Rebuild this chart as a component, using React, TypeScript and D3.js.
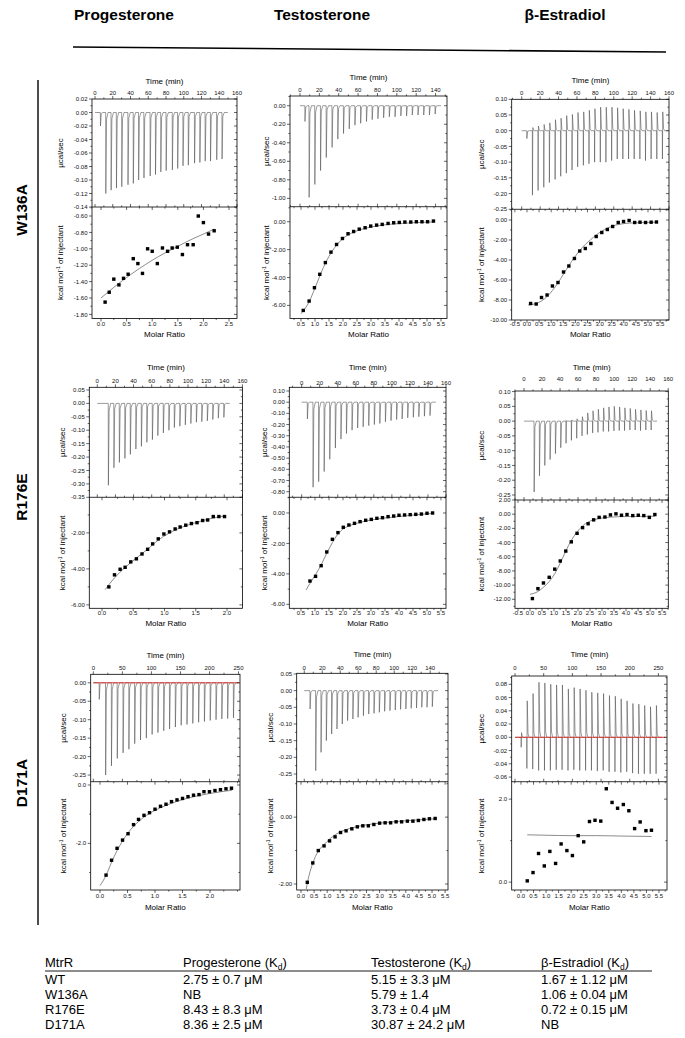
import React from "react";
import * as d3 from "d3";

const FONT = "Arial, 'Liberation Sans', Helvetica, sans-serif";

/* ── Labels ─────────────────────────────────────────── */
const COMPOUNDS = ["Progesterone", "Testosterone", "β-Estradiol"];
const MUTANTS = ["W136A", "R176E", "D171A"];

/* ── Axis tick values ───────────────────────────────── */
const TIME_160 = [0, 20, 40, 60, 80, 100, 120, 140, 160];
const TIME_140 = [0, 20, 40, 60, 80, 100, 120, 140];
const TIME_250 = [0, 50, 100, 150, 200, 250];
const RATIO_25 = [0, 0.5, 1, 1.5, 2, 2.5];
const RATIO_20 = [0, 0.5, 1, 1.5, 2];
const RATIO_H55 = [0.5, 1, 1.5, 2, 2.5, 3, 3.5, 4, 4.5, 5, 5.5];
const RATIO_M55 = [-0.5, 0, 0.5, 1, 1.5, 2, 2.5, 3, 3.5, 4, 4.5, 5, 5.5];
const RATIO_Z55 = [0, 0.5, 1, 1.5, 2, 2.5, 3, 3.5, 4, 4.5, 5, 5.5];

/* ── Progesterone / W136A ───────────────────────────── */
const P1_UCAL_TICKS = [-0.14, -0.12, -0.1, -0.08, -0.06, -0.04, -0.02, 0, 0.02];
const P1_KCAL_TICKS = [-1.8, -1.6, -1.4, -1.2, -1.0, -0.8, -0.6];
const P1_INJ_T = [6, 12, 18, 24, 30, 37, 43, 49, 55, 62, 68, 74, 80, 87, 93, 99, 105, 112, 118, 124, 130, 137, 143];
const P1_INJ_NEG = [-0.02, -0.12, -0.115, -0.112, -0.11, -0.107, -0.105, -0.1, -0.097, -0.094, -0.092, -0.088, -0.086, -0.085, -0.083, -0.079, -0.078, -0.075, -0.074, -0.072, -0.072, -0.07, -0.069];
const P1_RATIO = [0.08, 0.16, 0.25, 0.35, 0.44, 0.53, 0.63, 0.72, 0.81, 0.91, 1.0, 1.1, 1.2, 1.3, 1.39, 1.49, 1.59, 1.69, 1.8, 1.9, 2.0, 2.1, 2.21];
const P1_HEAT = [-1.65, -1.53, -1.37, -1.44, -1.36, -1.31, -1.12, -1.18, -1.3, -1.0, -1.03, -1.18, -0.99, -1.03, -0.99, -0.98, -1.07, -0.95, -0.95, -0.6, -0.68, -0.82, -0.78];
const P1_FIT_X = [0.0, 0.25, 0.5, 0.75, 1.0, 1.25, 1.5, 1.75, 2.0, 2.21];
const P1_FIT_Y = [-1.6, -1.47, -1.35, -1.24, -1.14, -1.05, -0.97, -0.89, -0.82, -0.76];

/* ── Testosterone / W136A ───────────────────────────── */
const P2_UCAL_TICKS = [-1.0, -0.8, -0.6, -0.4, -0.2, 0];
const P2_KCAL_TICKS = [-6, -4, -2, 0];
const P2_INJ_T = [5, 9.3, 15.2, 21.1, 27, 33, 38.9, 44.8, 50.7, 56.6, 62.5, 68.5, 74.4, 80.3, 86.2, 92.1, 98, 104, 109.9, 115.8, 121.7, 127.6, 133.5, 139.4];
const P2_INJ_NEG = [-0.17, -0.99, -0.85, -0.7, -0.56, -0.45, -0.36, -0.3, -0.25, -0.21, -0.19, -0.17, -0.15, -0.14, -0.13, -0.12, -0.12, -0.11, -0.11, -0.1, -0.1, -0.1, -0.1, -0.09];
const P2_RATIO = [0.58, 0.79, 0.98, 1.17, 1.37, 1.57, 1.77, 1.98, 2.18, 2.38, 2.58, 2.79, 2.99, 3.2, 3.4, 3.61, 3.81, 4.01, 4.21, 4.42, 4.62, 4.82, 5.02, 5.23];
const P2_HEAT = [-6.36, -5.69, -4.73, -3.77, -2.93, -2.18, -1.63, -1.2, -0.86, -0.7, -0.53, -0.43, -0.31, -0.24, -0.19, -0.12, -0.07, -0.05, -0.02, -0.02, 0.0, 0.0, 0.0, 0.05];
const P2_FIT_X = [0.5, 0.8, 1.0, 1.2, 1.4, 1.6, 1.8, 2.0, 2.3, 2.6, 3.0, 3.5, 4.0, 4.5, 5.0, 5.25];
const P2_FIT_Y = [-6.6, -5.7, -4.75, -3.75, -2.85, -2.15, -1.6, -1.2, -0.82, -0.58, -0.38, -0.22, -0.13, -0.07, -0.03, -0.01];

/* ── β-Estradiol / W136A ────────────────────────────── */
const P3_UCAL_TICKS = [-0.25, -0.2, -0.15, -0.1, -0.05, 0, 0.05, 0.1];
const P3_KCAL_TICKS = [-10, -8, -6, -4, -2, 0];
const P3_INJ_T = [5.4, 11.5, 17.6, 23.8, 29.9, 36.1, 42.2, 48.3, 54.5, 60.6, 66.8, 72.9, 79.0, 85.2, 91.3, 97.5, 103.6, 109.7, 115.9, 122.0, 128.2, 134.3, 140.4, 146.6, 152.7];
const P3_INJ_NEG = [-0.025, -0.205, -0.19, -0.18, -0.165, -0.155, -0.145, -0.135, -0.125, -0.115, -0.11, -0.105, -0.1, -0.1, -0.1, -0.095, -0.09, -0.09, -0.09, -0.09, -0.09, -0.095, -0.09, -0.09, -0.09];
const P3_INJ_POS = [0, 0.01, 0.015, 0.02, 0.025, 0.035, 0.04, 0.048, 0.052, 0.058, 0.06, 0.065, 0.07, 0.075, 0.075, 0.075, 0.073, 0.07, 0.068, 0.065, 0.063, 0.06, 0.06, 0.058, 0.06];
const P3_RATIO = [0.15, 0.38, 0.6, 0.83, 1.05, 1.28, 1.51, 1.73, 1.96, 2.18, 2.41, 2.64, 2.86, 3.09, 3.32, 3.54, 3.77, 3.99, 4.22, 4.45, 4.67, 4.9, 5.13, 5.35];
const P3_HEAT = [-8.35, -8.4, -7.75, -7.5, -6.6, -6.25, -5.2, -4.6, -3.85, -3.1, -2.85, -2.35, -1.65, -1.25, -0.95, -0.65, -0.25, -0.15, -0.05, -0.25, -0.22, -0.25, -0.22, -0.2];
const P3_FIT_X = [0.05, 0.38, 0.6, 0.83, 1.05, 1.28, 1.51, 1.73, 1.96, 2.18, 2.41, 2.64, 2.86, 3.09, 3.32, 3.54, 3.77, 4.0, 4.5, 5.0, 5.35];
const P3_FIT_Y = [-8.5, -8.35, -8.1, -7.65, -7.05, -6.3, -5.4, -4.55, -3.75, -3.05, -2.45, -1.95, -1.5, -1.12, -0.82, -0.6, -0.45, -0.36, -0.28, -0.24, -0.22];

/* ── Progesterone / R176E ───────────────────────────── */
const P4_UCAL_TICKS = [-0.35, -0.3, -0.25, -0.2, -0.15, -0.1, -0.05, 0, 0.05];
const P4_KCAL_TICKS = [-6, -4, -2];
const P4_INJ_T = [12.1, 18.2, 24.2, 30.3, 36.3, 42.4, 48.5, 54.5, 60.6, 66.6, 72.7, 78.8, 84.8, 90.9, 96.9, 103.0, 109.1, 115.1, 121.2, 127.2, 133.3, 139.4];
const P4_INJ_NEG = [-0.305, -0.24, -0.22, -0.205, -0.19, -0.17, -0.16, -0.145, -0.135, -0.12, -0.11, -0.1, -0.09, -0.085, -0.08, -0.075, -0.07, -0.068, -0.065, -0.06, -0.055, -0.052];
const P4_RATIO = [0.11, 0.2, 0.29, 0.37, 0.46, 0.55, 0.64, 0.73, 0.81, 0.9, 0.99, 1.08, 1.17, 1.25, 1.34, 1.43, 1.52, 1.61, 1.69, 1.78, 1.87, 1.96];
const P4_HEAT = [-5.0, -4.33, -4.02, -3.91, -3.61, -3.44, -3.17, -2.91, -2.61, -2.33, -2.06, -1.94, -1.78, -1.67, -1.57, -1.48, -1.43, -1.31, -1.28, -1.09, -1.09, -1.09];
const P4_FIT_X = [0.05, 0.2, 0.37, 0.55, 0.73, 0.9, 1.08, 1.25, 1.43, 1.61, 1.78, 1.96];
const P4_FIT_Y = [-5.15, -4.5, -3.92, -3.4, -2.9, -2.4, -2.0, -1.72, -1.5, -1.32, -1.17, -1.06];

/* ── Testosterone / R176E ───────────────────────────── */
const P5_UCAL_TICKS = [-0.8, -0.7, -0.6, -0.5, -0.4, -0.3, -0.2, -0.1, 0, 0.1];
const P5_KCAL_TICKS = [-6, -4, -2, 0];
const P5_INJ_T = [6.2, 12.5, 18.7, 24.8, 31.0, 37.2, 43.4, 49.5, 55.7, 61.9, 68.0, 74.2, 80.4, 86.5, 92.7, 98.9, 105.1, 111.2, 117.4, 123.6, 129.7, 135.9, 142.1];
const P5_INJ_NEG = [-0.15, -0.76, -0.71, -0.62, -0.51, -0.41, -0.33, -0.28, -0.25, -0.23, -0.22, -0.21, -0.2, -0.19, -0.175, -0.165, -0.155, -0.15, -0.14, -0.135, -0.13, -0.125, -0.12];
const P5_RATIO = [0.82, 1.02, 1.22, 1.42, 1.62, 1.82, 2.01, 2.21, 2.41, 2.61, 2.81, 3.01, 3.21, 3.41, 3.61, 3.81, 4.0, 4.2, 4.4, 4.6, 4.8, 5.0, 5.2];
const P5_HEAT = [-4.47, -4.16, -3.46, -2.56, -1.73, -1.29, -0.94, -0.79, -0.68, -0.57, -0.48, -0.42, -0.35, -0.31, -0.24, -0.2, -0.15, -0.13, -0.11, -0.09, -0.07, -0.02, 0.0];
const P5_FIT_X = [0.68, 0.82, 1.02, 1.22, 1.42, 1.62, 1.82, 2.02, 2.2, 2.6, 3.0, 3.5, 4.0, 4.5, 5.0, 5.2];
const P5_FIT_Y = [-5.06, -4.62, -4.05, -3.4, -2.65, -1.95, -1.38, -1.03, -0.86, -0.62, -0.46, -0.33, -0.23, -0.14, -0.06, -0.03];

/* ── β-Estradiol / R176E ────────────────────────────── */
const P6_UCAL_TICKS = [-0.25, -0.2, -0.15, -0.1, -0.05, 0, 0.05, 0.1];
const P6_KCAL_TICKS = [-12, -10, -8, -6, -4, -2, 0, 2];
const P6_INJ_T = [11.1, 17.0, 22.9, 28.8, 34.7, 40.6, 46.5, 52.4, 58.3, 64.2, 70.1, 76.0, 81.9, 87.8, 93.7, 99.6, 105.5, 111.4, 117.3, 123.2, 129.1, 135.0, 140.9];
const P6_INJ_NEG = [-0.24, -0.185, -0.15, -0.13, -0.11, -0.09, -0.075, -0.065, -0.058, -0.05, -0.045, -0.04, -0.038, -0.035, -0.035, -0.033, -0.032, -0.032, -0.03, -0.03, -0.032, -0.03, -0.03];
const P6_INJ_POS = [0, 0, 0, 0, 0, 0, 0.002, 0.004, 0.008, 0.015, 0.028, 0.035, 0.04, 0.045, 0.048, 0.05, 0.048, 0.045, 0.043, 0.04, 0.038, 0.036, 0.035];
const P6_RATIO = [0.1, 0.33, 0.56, 0.8, 1.03, 1.26, 1.49, 1.72, 1.96, 2.19, 2.42, 2.65, 2.88, 3.12, 3.35, 3.58, 3.81, 4.04, 4.28, 4.51, 4.74, 4.97, 5.2];
const P6_HEAT = [-11.9, -10.5, -9.7, -8.9, -7.75, -6.6, -5.2, -3.9, -2.7, -1.9, -1.35, -0.8, -0.45, -0.4, -0.1, 0.05, -0.15, -0.05, -0.2, -0.15, -0.2, -0.45, -0.05];
const P6_FIT_X = [0.0, 0.33, 0.56, 0.8, 1.03, 1.26, 1.49, 1.72, 1.96, 2.19, 2.42, 2.65, 2.88, 3.35, 4.0, 5.2];
const P6_FIT_Y = [-11.3, -10.9, -10.3, -9.5, -8.4, -6.9, -5.2, -3.7, -2.5, -1.65, -1.1, -0.8, -0.6, -0.42, -0.33, -0.3];

/* ── Progesterone / D171A ───────────────────────────── */
const P7_UCAL_TICKS = [-0.25, -0.2, -0.15, -0.1, -0.05, 0];
const P7_KCAL_TICKS = [-2, 0];
const P7_INJ_T = [10, 21, 31, 41, 51, 61, 71, 81, 91, 101, 111, 121, 131, 141, 151, 161, 171, 181, 191, 201, 211, 221, 231, 241];
const P7_INJ_NEG = [-0.045, -0.25, -0.225, -0.205, -0.19, -0.18, -0.165, -0.155, -0.15, -0.14, -0.135, -0.13, -0.125, -0.12, -0.115, -0.113, -0.11, -0.107, -0.105, -0.102, -0.1, -0.098, -0.097, -0.095];
const P7_RATIO = [0.11, 0.21, 0.31, 0.41, 0.51, 0.61, 0.7, 0.8, 0.9, 1.0, 1.1, 1.2, 1.3, 1.4, 1.5, 1.6, 1.7, 1.8, 1.89, 1.99, 2.09, 2.19, 2.29, 2.39];
const P7_HEAT = [-3.09, -2.58, -2.17, -1.89, -1.67, -1.36, -1.18, -1.04, -0.95, -0.83, -0.73, -0.66, -0.57, -0.51, -0.46, -0.4, -0.35, -0.33, -0.23, -0.23, -0.19, -0.16, -0.13, -0.11];
const P7_FIT_X = [0.0, 0.11, 0.21, 0.31, 0.41, 0.51, 0.61, 0.8, 1.0, 1.2, 1.4, 1.6, 1.8, 2.0, 2.2, 2.4];
const P7_FIT_Y = [-3.45, -3.1, -2.65, -2.25, -1.92, -1.64, -1.42, -1.1, -0.87, -0.7, -0.56, -0.45, -0.36, -0.29, -0.23, -0.18];

/* ── Testosterone / D171A ───────────────────────────── */
const P8_UCAL_TICKS = [-0.25, -0.2, -0.15, -0.1, -0.05, 0, 0.05];
const P8_KCAL_TICKS = [-2, 0];
const P8_INJ_T = [6.3, 12.6, 18.5, 24.4, 30.3, 36.2, 42.1, 48.0, 53.9, 59.7, 65.6, 71.5, 77.4, 83.3, 89.2, 95.1, 101.0, 106.9, 112.8, 118.7, 124.6, 130.5, 136.3, 142.2];
const P8_INJ_NEG = [-0.055, -0.24, -0.185, -0.15, -0.13, -0.115, -0.1, -0.09, -0.085, -0.08, -0.075, -0.07, -0.068, -0.065, -0.062, -0.06, -0.058, -0.056, -0.055, -0.053, -0.052, -0.05, -0.05, -0.048];
const P8_RATIO = [0.24, 0.45, 0.66, 0.88, 1.09, 1.3, 1.51, 1.72, 1.94, 2.15, 2.36, 2.57, 2.78, 3.0, 3.21, 3.42, 3.63, 3.84, 4.06, 4.27, 4.48, 4.69, 4.9, 5.12];
const P8_HEAT = [-1.95, -1.37, -1.0, -0.86, -0.71, -0.59, -0.46, -0.41, -0.35, -0.29, -0.26, -0.26, -0.22, -0.18, -0.17, -0.17, -0.14, -0.14, -0.12, -0.12, -0.1, -0.07, -0.05, -0.04];
const P8_FIT_X = [0.2, 0.24, 0.35, 0.45, 0.55, 0.66, 0.88, 1.09, 1.3, 1.6, 2.0, 2.5, 3.0, 3.5, 4.0, 4.5, 5.12];
const P8_FIT_Y = [-2.15, -1.98, -1.62, -1.38, -1.18, -1.02, -0.82, -0.66, -0.53, -0.41, -0.31, -0.23, -0.18, -0.14, -0.11, -0.08, -0.05];

/* ── β-Estradiol / D171A ────────────────────────────── */
const P9_UCAL_TICKS = [-0.06, -0.04, -0.02, 0, 0.02, 0.04, 0.06, 0.08];
const P9_KCAL_TICKS = [0, 2];
const P9_INJ_T = [10.5, 20.4, 30.6, 40.9, 51.1, 61.4, 71.6, 81.8, 92.1, 102.3, 112.6, 122.8, 133.0, 143.3, 153.5, 163.8, 174.0, 184.2, 194.5, 204.7, 215.0, 225.2, 235.4, 245.7];
const P9_INJ_NEG = [-0.015, -0.047, -0.048, -0.05, -0.05, -0.05, -0.049, -0.049, -0.05, -0.049, -0.05, -0.05, -0.05, -0.051, -0.05, -0.052, -0.052, -0.053, -0.052, -0.054, -0.055, -0.055, -0.055, -0.055];
const P9_INJ_POS = [0.007, 0.055, 0.066, 0.083, 0.082, 0.08, 0.079, 0.079, 0.073, 0.075, 0.073, 0.071, 0.068, 0.067, 0.066, 0.063, 0.062, 0.058, 0.055, 0.051, 0.05, 0.048, 0.046, 0.048];
const P9_RATIO = [0.25, 0.48, 0.7, 0.93, 1.15, 1.38, 1.6, 1.83, 2.05, 2.28, 2.5, 2.73, 2.95, 3.18, 3.4, 3.63, 3.85, 4.08, 4.3, 4.53, 4.75, 4.98, 5.2];
const P9_HEAT = [0.03, 0.23, 0.69, 0.39, 0.74, 0.45, 0.92, 0.76, 0.64, 1.12, 0.97, 1.46, 1.49, 1.47, 2.25, 1.92, 1.78, 1.87, 1.72, 1.29, 1.45, 1.24, 1.25];
const P9_FIT_X = [0.25, 1.0, 2.0, 3.0, 4.0, 5.2];
const P9_FIT_Y = [1.14, 1.13, 1.12, 1.12, 1.11, 1.1];

/* ── Kd table ───────────────────────────────────────── */
const TABLE_HEAD = ["MtrR", "Progesterone", "Testosterone", "β-Estradiol"];
const TABLE_ROWS = [
  ["WT", "2.75 ± 0.7 μM", "5.15 ± 3.3 μM", "1.67 ± 1.12 μM"],
  ["W136A", "NB", "5.79 ± 1.4", "1.06 ± 0.04 μM"],
  ["R176E", "8.43 ± 8.3 μM", "3.73 ± 0.4 μM", "0.72 ± 0.15 μM"],
  ["D171A", "8.36 ± 2.5 μM", "30.87 ± 24.2 μM", "NB"],
];

type Panel = {
  x0: number; x1: number; yTop: number; yMid: number; yBot: number;
  tDom: [number, number]; uDom: [number, number]; rDom: [number, number]; kDom: [number, number];
  tTicks: number[]; uTicks: number[]; rTicks: number[]; kTicks: number[];
  kDigits: number;
  injT: number[]; injNeg: number[]; injPos?: number[];
  ratio: number[]; heat: number[]; fitX: number[]; fitY: number[];
  titleX: number; timeTitleY: number; timeLabelY: number; ratioLabelY: number; ratioTitleY: number;
  red?: boolean;
};

const ROW_Y = [
  { ratioLabelY: 326, ratioTitleY: 337 },
  { ratioLabelY: 615, ratioTitleY: 626 },
  { ratioLabelY: 898, ratioTitleY: 910 },
];

const PANELS: Panel[] = [
  { x0: 92, x1: 237, yTop: 99, yMid: 207, yBot: 318.5, tDom: [-3.4, 160], uDom: [-0.14, 0.02], rDom: [-0.176, 2.656], kDom: [-1.85, -0.49],
    tTicks: TIME_160, uTicks: P1_UCAL_TICKS, rTicks: RATIO_25, kTicks: P1_KCAL_TICKS, kDigits: 2,
    injT: P1_INJ_T, injNeg: P1_INJ_NEG, ratio: P1_RATIO, heat: P1_HEAT, fitX: P1_FIT_X, fitY: P1_FIT_Y,
    titleX: 60, timeTitleY: 84, timeLabelY: 95, ...ROW_Y[0] },
  { x0: 290, x1: 447, yTop: 96, yMid: 206.7, yBot: 318.5, tDom: [-10.3, 151.8], uDom: [-1.09, 0.105], rDom: [0.107, 5.714], kDom: [-6.94, 1.08],
    tTicks: TIME_140, uTicks: P2_UCAL_TICKS, rTicks: RATIO_H55, kTicks: P2_KCAL_TICKS, kDigits: 2,
    injT: P2_INJ_T, injNeg: P2_INJ_NEG, ratio: P2_RATIO, heat: P2_HEAT, fitX: P2_FIT_X, fitY: P2_FIT_Y,
    titleX: 266, timeTitleY: 80, timeLabelY: 92, ...ROW_Y[0] },
  { x0: 511.7, x1: 669, yTop: 99.3, yMid: 209.3, yBot: 320, tDom: [-10.9, 160], uDom: [-0.25, 0.1], rDom: [-0.632, 5.868], kDom: [-10, 1.07],
    tTicks: TIME_160, uTicks: P3_UCAL_TICKS, rTicks: RATIO_M55, kTicks: P3_KCAL_TICKS, kDigits: 2,
    injT: P3_INJ_T, injNeg: P3_INJ_NEG, injPos: P3_INJ_POS, ratio: P3_RATIO, heat: P3_HEAT, fitX: P3_FIT_X, fitY: P3_FIT_Y,
    titleX: 481, timeTitleY: 83, timeLabelY: 95, ...ROW_Y[0] },
  { x0: 89.3, x1: 242.4, yTop: 387.3, yMid: 497.3, yBot: 608.3, tDom: [-8.8, 160], uDom: [-0.35, 0.06], rDom: [-0.203, 2.246], kDom: [-6.19, -0.02],
    tTicks: TIME_160, uTicks: P4_UCAL_TICKS, rTicks: RATIO_20, kTicks: P4_KCAL_TICKS, kDigits: 2,
    injT: P4_INJ_T, injNeg: P4_INJ_NEG, ratio: P4_RATIO, heat: P4_HEAT, fitX: P4_FIT_X, fitY: P4_FIT_Y,
    titleX: 62, timeTitleY: 370, timeLabelY: 383, ...ROW_Y[1] },
  { x0: 289.3, x1: 446, yTop: 387.3, yMid: 497.3, yBot: 608.3, tDom: [-13.7, 160], uDom: [-0.85, 0.133], rDom: [0.082, 5.679], kDom: [-6.26, 1.03],
    tTicks: TIME_160, uTicks: P5_UCAL_TICKS, rTicks: RATIO_H55, kTicks: P5_KCAL_TICKS, kDigits: 2,
    injT: P5_INJ_T, injNeg: P5_INJ_NEG, ratio: P5_RATIO, heat: P5_HEAT, fitX: P5_FIT_X, fitY: P5_FIT_Y,
    titleX: 264, timeTitleY: 370, timeLabelY: 385, ...ROW_Y[1] },
  { x0: 515, x1: 668.3, yTop: 391, yMid: 500, yBot: 608.3, tDom: [-10, 160.1], uDom: [-0.267, 0.102], rDom: [-0.625, 5.76], kDom: [-13.27, 2.0],
    tTicks: TIME_160, uTicks: P6_UCAL_TICKS, rTicks: RATIO_M55, kTicks: P6_KCAL_TICKS, kDigits: 2,
    injT: P6_INJ_T, injNeg: P6_INJ_NEG, injPos: P6_INJ_POS, ratio: P6_RATIO, heat: P6_HEAT, fitX: P6_FIT_X, fitY: P6_FIT_Y,
    titleX: 481, timeTitleY: 370, timeLabelY: 380.5, ...ROW_Y[1] },
  { x0: 90.7, x1: 240, yTop: 674.3, yMid: 781.7, yBot: 890, tDom: [-4.5, 252.5], uDom: [-0.268, 0.023], rDom: [-0.169, 2.545], kDom: [-3.6, 0.113],
    tTicks: TIME_250, uTicks: P7_UCAL_TICKS, rTicks: RATIO_20, kTicks: P7_KCAL_TICKS, kDigits: 1,
    injT: P7_INJ_T, injNeg: P7_INJ_NEG, ratio: P7_RATIO, heat: P7_HEAT, fitX: P7_FIT_X, fitY: P7_FIT_Y,
    titleX: 63, timeTitleY: 658, timeLabelY: 670, red: true, ...ROW_Y[2] },
  { x0: 296.7, x1: 448, yTop: 673.3, yMid: 781.7, yBot: 890, tDom: [-8.4, 159.8], uDom: [-0.273, 0.052], rDom: [-0.164, 5.61], kDom: [-2.18, 1.06],
    tTicks: TIME_160, uTicks: P8_UCAL_TICKS, rTicks: RATIO_Z55, kTicks: P8_KCAL_TICKS, kDigits: 2,
    injT: P8_INJ_T, injNeg: P8_INJ_NEG, ratio: P8_RATIO, heat: P8_HEAT, fitX: P8_FIT_X, fitY: P8_FIT_Y,
    titleX: 270, timeTitleY: 657, timeLabelY: 670, ...ROW_Y[2] },
  { x0: 511.7, x1: 667, yTop: 676, yMid: 781.7, yBot: 890, tDom: [-5.8, 265], uDom: [-0.067, 0.0925], rDom: [-0.37, 5.82], kDom: [-0.19, 2.42],
    tTicks: TIME_250, uTicks: P9_UCAL_TICKS, rTicks: RATIO_Z55, kTicks: P9_KCAL_TICKS, kDigits: 1,
    injT: P9_INJ_T, injNeg: P9_INJ_NEG, injPos: P9_INJ_POS, ratio: P9_RATIO, heat: P9_HEAT, fitX: P9_FIT_X, fitY: P9_FIT_Y,
    titleX: 481, timeTitleY: 657, timeLabelY: 670, red: true, ...ROW_Y[2] },
];

const fmt = (v: number, d: number) => (Math.abs(v) < 1e-9 ? 0 : v).toFixed(d);
const inDom = (v: number, dom: [number, number]) => v >= Math.min(...dom) - 1e-9 && v <= Math.max(...dom) + 1e-9;

// half-step minor ticks between the labelled ones
function minors(major: number[], dom: [number, number]) {
  if (major.length < 2) return [];
  const step = (major[1] - major[0]) / 2;
  const lo = Math.min(...dom), hi = Math.max(...dom);
  const out: number[] = [];
  for (let v = Math.ceil(lo / step - 1e-6) * step; v <= hi + 1e-9; v += step) {
    if (!major.some((m) => Math.abs(m - v) < 1e-6)) out.push(v);
  }
  return out;
}

function ItcPanel({ p, id }: { p: Panel; id: number }) {
  const tx = d3.scaleLinear().domain(p.tDom).range([p.x0, p.x1]);
  const uy = d3.scaleLinear().domain(p.uDom).range([p.yMid, p.yTop]);
  const rx = d3.scaleLinear().domain(p.rDom).range([p.x0, p.x1]);
  const ky = d3.scaleLinear().domain(p.kDom).range([p.yBot, p.yMid]);
  const pxPerMin = (p.x1 - p.x0) / (p.tDom[1] - p.tDom[0]);
  const dt = (px: number) => px / pxPerMin;

  // raw thermogram: baseline with one narrow spike per injection
  const trace: [number, number][] = [[0, 0]];
  p.injT.forEach((t, i) => {
    const n = p.injNeg[i];
    const pos = p.injPos ? p.injPos[i] : 0;
    trace.push([t, 0], [t + dt(0.15), n]);
    if (pos > 0) trace.push([t + dt(0.5), pos], [t + dt(1.3), pos * 0.1]);
    else trace.push([t + dt(0.9), n * 0.08]);
    trace.push([t + dt(2.4), 0]);
  });
  const tEnd = p.injT[p.injT.length - 1] + dt(6);
  trace.push([tEnd, 0]);
  const traceLine = d3.line<[number, number]>().x((d) => tx(d[0])).y((d) => uy(d[1]));

  const fitPts = p.fitX.map((x, i) => [x, p.fitY[i]] as [number, number]);
  const fitLine = d3.line<[number, number]>().x((d) => rx(d[0])).y((d) => ky(d[1])).curve(d3.curveMonotoneX);

  const tMaj = p.tTicks.filter((v) => inDom(v, p.tDom));
  const tMin = minors(p.tTicks, p.tDom);
  const uMaj = p.uTicks.filter((v) => inDom(v, p.uDom));
  const uMin = minors(p.uTicks, p.uDom);
  const rMaj = p.rTicks.filter((v) => inDom(v, p.rDom));
  const rMin = minors(p.rTicks, p.rDom);
  const kMaj = p.kTicks.filter((v) => inDom(v, p.kDom));
  const kMin = minors(p.kTicks, p.kDom);

  const L = 3, S = 1.6;
  const lines: React.ReactNode[] = [];
  const seg = (x1: number, y1: number, x2: number, y2: number) =>
    lines.push(<line key={lines.length} x1={x1} y1={y1} x2={x2} y2={y2} stroke="#000" strokeWidth={0.6} />);

  tMaj.forEach((v) => { seg(tx(v), p.yTop, tx(v), p.yTop - L); seg(tx(v), p.yMid, tx(v), p.yMid - L); });
  tMin.forEach((v) => { seg(tx(v), p.yTop, tx(v), p.yTop - S); seg(tx(v), p.yMid, tx(v), p.yMid - S); });
  uMaj.forEach((v) => { seg(p.x0, uy(v), p.x0 - L, uy(v)); seg(p.x1, uy(v), p.x1 - L, uy(v)); });
  uMin.forEach((v) => { seg(p.x0, uy(v), p.x0 - S, uy(v)); seg(p.x1, uy(v), p.x1 - S, uy(v)); });
  rMaj.forEach((v) => { seg(rx(v), p.yMid, rx(v), p.yMid + L); seg(rx(v), p.yBot, rx(v), p.yBot + L); });
  rMin.forEach((v) => { seg(rx(v), p.yMid, rx(v), p.yMid + S); seg(rx(v), p.yBot, rx(v), p.yBot + S); });
  kMaj.forEach((v) => { seg(p.x0, ky(v), p.x0 - L, ky(v)); seg(p.x1, ky(v), p.x1 - L, ky(v)); });
  kMin.forEach((v) => { seg(p.x0, ky(v), p.x0 - S, ky(v)); seg(p.x1, ky(v), p.x1 - S, ky(v)); });

  const cx = (p.x0 + p.x1) / 2;
  const sq = 3.4;

  return (
    <g fontFamily={FONT}>
      <defs>
        <clipPath id={`clipT${id}`}><rect x={p.x0} y={p.yTop} width={p.x1 - p.x0} height={p.yMid - p.yTop} /></clipPath>
        <clipPath id={`clipB${id}`}><rect x={p.x0} y={p.yMid} width={p.x1 - p.x0} height={p.yBot - p.yMid} /></clipPath>
      </defs>

      {/* raw heat */}
      <path d={traceLine(trace) ?? ""} fill="none" stroke="#4a4a4a" strokeWidth={0.55} clipPath={`url(#clipT${id})`} />
      {p.red && (
        <line x1={tx(0)} x2={p.x1 - 1.5} y1={uy(0)} y2={uy(0)} stroke="#d8261e" strokeWidth={0.9} />
      )}

      {/* integrated heat + fit */}
      <g clipPath={`url(#clipB${id})`}>
        <path d={fitLine(fitPts) ?? ""} fill="none" stroke="#6e6e6e" strokeWidth={0.8} />
        {p.ratio.map((r, i) => (
          <rect key={i} x={rx(r) - sq / 2} y={ky(p.heat[i]) - sq / 2} width={sq} height={sq} fill="#000" />
        ))}
      </g>

      {/* frame */}
      <rect x={p.x0} y={p.yTop} width={p.x1 - p.x0} height={p.yBot - p.yTop} fill="none" stroke="#000" strokeWidth={0.8} />
      <line x1={p.x0} x2={p.x1} y1={p.yMid} y2={p.yMid} stroke="#000" strokeWidth={0.8} />
      {lines}

      {/* tick labels */}
      <g fontSize={6} fill="#111">
        {tMaj.map((v) => (
          <text key={`t${v}`} x={tx(v)} y={p.timeLabelY} textAnchor="middle">{fmt(v, 0)}</text>
        ))}
        {uMaj.map((v) => (
          <text key={`u${v}`} x={p.x0 - 4.5} y={uy(v) + 2.1} textAnchor="end">{fmt(v, 2)}</text>
        ))}
        {kMaj.map((v) => (
          <text key={`k${v}`} x={p.x0 - 4.5} y={ky(v) + 2.1} textAnchor="end">{fmt(v, p.kDigits)}</text>
        ))}
        {rMaj.map((v) => (
          <text key={`r${v}`} x={rx(v)} y={p.ratioLabelY} textAnchor="middle">{fmt(v, 1)}</text>
        ))}
      </g>

      {/* axis titles */}
      <g fontSize={8} fill="#000">
        <text x={cx} y={p.timeTitleY} textAnchor="middle">Time (min)</text>
        <text x={cx} y={p.ratioTitleY} textAnchor="middle">Molar Ratio</text>
        <text transform={`translate(${p.titleX + 3},${(p.yTop + p.yMid) / 2}) rotate(-90)`} textAnchor="middle">µcal/sec</text>
        <text transform={`translate(${p.titleX + 3},${(p.yMid + p.yBot) / 2}) rotate(-90)`} textAnchor="middle">
          kcal mol<tspan fontSize={5} dy={-3}>-1</tspan><tspan dy={3}> of injectant</tspan>
        </text>
      </g>
    </g>
  );
}

const HEAD_X = [124, 322, 565];
const ROW_LABEL_Y = [210, 497, 783];
const TABLE_X = [45, 183, 371, 541];
const TABLE_ROW_Y = [984, 999, 1014, 1029];

export default function App() {
  return (
    <div style={{ width: 685, height: 1038, background: "#fff" }}>
      <style>{`body{margin:0;background:#fff}`}</style>
      <svg width={685} height={1038} viewBox="0 0 685 1038" style={{ display: "block" }}>
        <rect width={685} height={1038} fill="#fff" />

        {/* column headers */}
        {COMPOUNDS.map((c, i) => (
          <text key={c} x={HEAD_X[i]} y={20} textAnchor="middle" fontFamily={FONT} fontWeight="bold" fontSize={15.5}>{c}</text>
        ))}
        <line x1={73} y1={47} x2={666} y2={52} stroke="#000" strokeWidth={1.6} />

        {/* row labels */}
        <line x1={38} y1={80} x2={38} y2={925} stroke="#000" strokeWidth={1.4} />
        {MUTANTS.map((m, i) => (
          <text key={m} transform={`translate(27,${ROW_LABEL_Y[i]}) rotate(-90)`} textAnchor="middle"
            fontFamily={FONT} fontWeight="bold" fontSize={15.5}>{m}</text>
        ))}

        {PANELS.map((p, i) => <ItcPanel key={i} p={p} id={i} />)}

        {/* Kd table */}
        <g fontFamily={FONT} fontSize={13} fill="#000">
          {TABLE_HEAD.map((h, i) => (
            <text key={h} x={TABLE_X[i]} y={967}>
              {h}
              {i > 0 && (<>{" (K"}<tspan fontSize={8.5} dy={2.5}>d</tspan><tspan dy={-2.5}>)</tspan></>)}
            </text>
          ))}
          <line x1={45} x2={652} y1={971} y2={971} stroke="#000" strokeWidth={0.9} />
          {TABLE_ROWS.map((row, r) =>
            row.map((cell, c) => (
              <text key={`${r}-${c}`} x={TABLE_X[c]} y={TABLE_ROW_Y[r]}>{cell}</text>
            ))
          )}
        </g>
      </svg>
    </div>
  );
}
